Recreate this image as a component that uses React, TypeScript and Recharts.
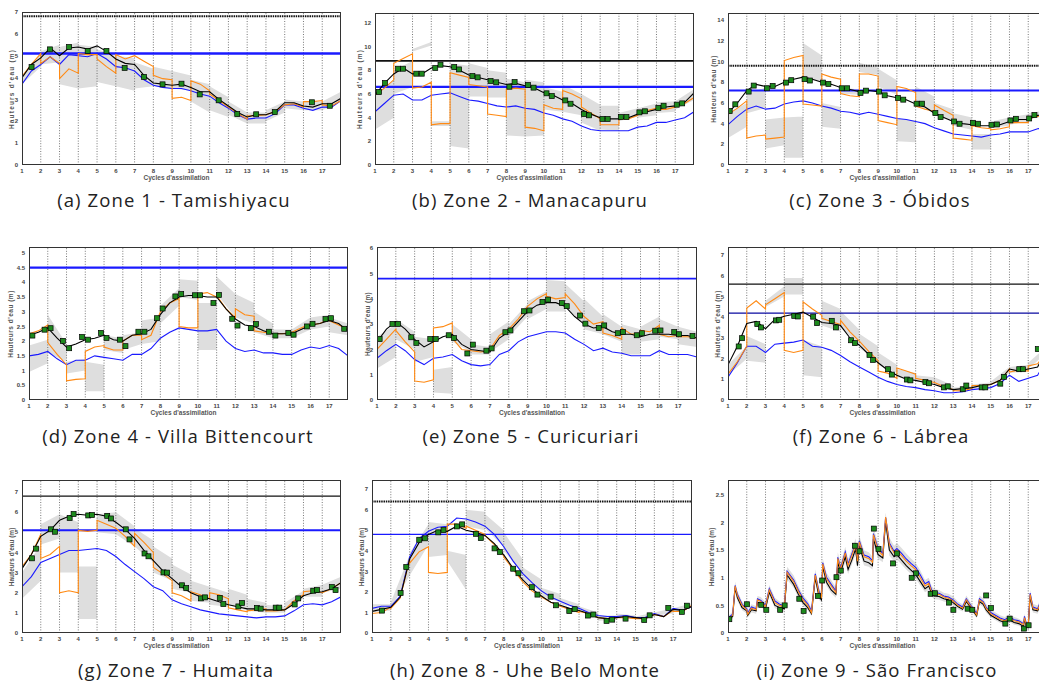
import { ComposedChart, Line, Area, Scatter, XAxis, YAxis, ReferenceLine } from "recharts"

/* =====================================
   SHARED AXES
===================================== */

const CYCLES = [1, 2, 3, 4, 5, 6, 7, 8, 9, 10, 11, 12, 13, 14, 15, 16, 17]
const GRID_X = [2, 3, 4, 5, 6, 7, 8, 9, 10, 11, 12, 13, 14, 15, 16, 17]
const HALF = [
  1, 1.5, 2, 2.5, 3, 3.5, 4, 4.5, 5, 5.5, 6, 6.5, 7, 7.5, 8, 8.5, 9, 9.5, 10, 10.5,
  11, 11.5, 12, 12.5, 13, 13.5, 14, 14.5, 15, 15.5, 16, 16.5, 17, 17.5, 18,
]

/* =====================================
   ZONE 1 - TAMISHIYACU
===================================== */

const z1Black = [4.0, 4.6, 4.9, 5.35, 5.0, 5.35, 5.4, 5.3, 5.45, 5.2, 4.85, 4.65, 4.6, 4.1, 3.75, 3.7, 3.65, 3.7, 3.55, 3.35, 3.35, 3.0, 2.7, 2.4, 2.2, 2.3, 2.3, 2.45, 2.85, 2.85, 2.7, 2.65, 2.8, 2.8, 3.05]
const z1Blue = [3.7, 4.3, 4.6, 4.95, 4.6, 5.05, 5.0, 4.95, 5.1, 4.85, 4.5, 4.45, 4.3, 3.9, 3.65, 3.55, 3.5, 3.5, 3.4, 3.25, 3.15, 2.85, 2.6, 2.3, 2.1, 2.15, 2.15, 2.35, 2.75, 2.75, 2.6, 2.5, 2.65, 2.65, 2.95]
// forecast per cycle: start, middle, end
const z1Orange = [[4.05, 4.6, 5.1], [4.65, 4.95, 4.65], [3.95, 4.4, 4.2], [5.1, 5.05, 5.05], [4.85, 4.5, 4.2], [5.05, 4.85, 5.0], [5.0, 4.75, 4.5], [4.1, 3.95, 3.9], [3.05, 3.1, 2.95], [3.85, 3.7, 3.4], [3.25, 2.95, 2.65], [2.65, 2.35, 2.1], [2.25, 2.25, 2.3], [2.3, 2.45, 2.75], [2.75, 2.8, 2.65], [2.9, 2.9, 2.95], [2.75, 2.7, 2.95]]
// ensemble spread per cycle: low start, high start, low end, high end
const z1Band = [[3.7, 4.1, 4.5, 5.1], [4.6, 5.2, 4.7, 5.5], [3.7, 5.4, 3.5, 5.6], [3.5, 5.5, 3.6, 5.4], [3.8, 5.3, 3.6, 5.0], [3.6, 5.0, 3.4, 4.9], [3.5, 4.7, 3.6, 4.4], [3.6, 4.5, 3.5, 4.3], [3.5, 4.3, 3.4, 4.1], [2.9, 3.9, 2.4, 3.7], [2.5, 3.6, 2.2, 3.1], [2.3, 2.9, 1.9, 2.4], [1.9, 2.4, 1.9, 2.4], [2.0, 2.5, 2.4, 2.9], [2.6, 3.0, 2.5, 2.9], [2.5, 2.9, 2.5, 2.9], [2.5, 2.9, 2.9, 3.35]]
const z1ObsX = [1.51, 2.49, 3.51, 4.5, 5.5, 6.47, 7.5, 8.49, 9.5, 10.47, 11.48, 12.47, 13.48, 14.47, 16.45, 17.4]
const z1ObsY = [4.48, 5.29, 5.4, 5.22, 5.22, 4.44, 4.03, 3.69, 3.72, 3.23, 2.96, 2.33, 2.32, 2.42, 2.87, 2.71]

/* =====================================
   ZONE 2 - MANACAPURU
===================================== */

const z2Black = [5.9, 6.9, 7.7, 8.2, 7.7, 7.7, 8.2, 8.4, 8.3, 8.0, 7.6, 7.4, 7.2, 7.0, 6.8, 6.9, 6.7, 6.5, 6.1, 5.9, 5.5, 5.2, 4.7, 4.3, 4.0, 3.9, 3.9, 4.0, 4.3, 4.5, 4.7, 4.9, 5.0, 5.3, 6.1]
const z2Blue = [4.5, 5.2, 5.9, 6.0, 5.5, 5.5, 5.9, 6.0, 6.1, 5.8, 5.5, 5.4, 5.2, 5.0, 4.9, 5.0, 4.8, 4.7, 4.4, 4.2, 3.9, 3.7, 3.3, 3.0, 2.9, 2.9, 2.9, 2.9, 3.2, 3.3, 3.6, 3.6, 3.8, 4.0, 4.5]
const z2Orange = [[5.9, 6.5, 7.2], [8.6, 9.0, 9.4], [6.5, 6.6, 7.0], [3.4, 3.5, 3.5], [7.8, 7.6, 7.4], [6.8, 6.7, 6.6], [4.3, 4.2, 4.1], [6.4, 6.5, 6.4], [3.2, 3.1, 2.9], [5.1, 4.8, 4.7], [6.3, 6.0, 5.6], [4.9, 4.4, 3.9], [3.4, 3.4, 3.4], [3.9, 3.9, 4.2], [4.3, 4.6, 4.8], [4.7, 4.7, 4.9], [5.0, 5.2, 5.7]]
const z2Band = [[3.0, 5.9, 4.0, 7.2], [6.0, 8.0, 6.6, 8.8], [9.6, 9.8, 10.1, 10.4], [3.3, 3.7, 3.3, 3.7], [1.6, 8.6, 1.4, 8.4], [5.8, 8.6, 5.8, 8.2], [5.7, 8.0, 5.7, 7.8], [2.5, 7.3, 2.4, 7.0], [2.4, 7.2, 2.5, 7.0], [4.7, 6.6, 4.5, 6.2], [4.5, 6.8, 4.2, 6.0], [3.6, 6.0, 2.9, 5.1], [3.0, 5.0, 2.9, 5.0], [3.7, 4.4, 4.1, 4.8], [4.0, 4.8, 4.2, 5.2], [4.4, 5.3, 4.5, 5.4], [4.7, 5.4, 5.5, 6.4]]
const z2ObsX = [1.21, 1.53, 2.23, 2.5, 3.2, 3.49, 4.21, 4.49, 5.22, 5.48, 6.19, 6.47, 7.16, 7.46, 8.16, 8.44, 9.15, 9.45, 10.14, 10.42, 11.14, 11.42, 12.13, 12.41, 13.12, 13.4, 14.1, 14.4, 15.09, 15.39, 16.1, 16.38, 17.08, 17.37]
const z2ObsY = [6.17, 6.93, 8.14, 8.14, 7.72, 7.72, 8.2, 8.48, 8.28, 8.08, 7.52, 7.41, 7.1, 6.99, 6.62, 7.01, 6.76, 6.54, 6.06, 5.83, 5.46, 5.18, 4.31, 4.2, 3.89, 3.89, 4.06, 4.06, 4.45, 4.54, 4.82, 5.01, 5.1, 5.21]

/* =====================================
   ZONE 3 - OBIDOS
===================================== */

const z3Black = [5.0, 6.0, 7.2, 7.8, 7.6, 7.6, 8.0, 8.3, 8.5, 8.3, 8.0, 7.8, 7.5, 7.3, 7.1, 7.2, 7.1, 6.7, 6.5, 6.3, 5.9, 5.6, 5.0, 4.6, 4.2, 4.0, 3.9, 3.8, 3.8, 3.9, 4.2, 4.4, 4.4, 4.8, 5.0]
const z3Blue = [3.9, 4.7, 5.4, 5.7, 5.4, 5.5, 5.9, 6.1, 6.2, 6.0, 5.7, 5.5, 5.2, 5.1, 4.9, 5.1, 4.9, 4.7, 4.5, 4.4, 4.2, 4.0, 3.6, 3.3, 3.0, 2.9, 2.8, 2.7, 2.9, 3.0, 3.2, 3.2, 3.2, 3.5, 3.6]
const z3Orange = [[4.9, 5.5, 6.2], [2.6, 2.8, 2.9], [2.5, 2.6, 2.7], [10.1, 10.4, 10.6], [5.9, 5.8, 5.7], [8.8, 8.5, 8.3], [6.9, 6.7, 6.6], [8.8, 8.8, 8.6], [4.3, 4.1, 3.9], [7.6, 7.4, 7.0], [5.7, 5.4, 5.2], [5.8, 5.3, 4.8], [2.6, 2.5, 2.4], [3.8, 3.6, 3.5], [3.4, 3.5, 3.7], [4.1, 4.1, 4.1], [4.5, 4.7, 4.9]]
const z3Band = [[2.6, 5.0, 3.7, 6.0], [5.0, 6.9, 5.5, 7.5], [1.6, 4.4, 1.9, 4.6], [0.7, 4.6, 0.7, 4.7], [8.4, 11.8, 8.0, 10.6], [3.7, 6.0, 3.5, 5.6], [6.9, 7.5, 6.8, 7.3], [9.0, 9.9, 8.7, 9.4], [7.6, 9.3, 6.8, 8.2], [2.3, 4.5, 2.2, 4.3], [5.8, 7.6, 5.0, 6.6], [4.8, 6.0, 4.2, 5.4], [3.8, 5.0, 3.4, 4.6], [1.5, 3.0, 1.5, 3.0], [3.6, 4.2, 3.8, 4.6], [3.9, 4.6, 4.2, 4.9], [4.4, 5.0, 4.8, 5.3]]
const z3ObsX = [1.09, 1.39, 2.1, 2.37, 3.07, 3.38, 4.09, 4.37, 5.08, 5.36, 6.07, 6.35, 7.06, 7.35, 8.06, 8.36, 9.05, 9.35, 10.06, 10.34, 11.05, 11.34, 12.05, 12.33, 13.05, 13.34, 14.05, 14.33, 15.04, 15.33, 16.05, 16.34, 17.05, 17.33]
const z3ObsY = [5.22, 5.87, 7.1, 7.68, 7.42, 7.65, 7.97, 8.2, 8.3, 8.17, 7.97, 7.84, 7.42, 7.42, 6.97, 7.19, 7.1, 6.74, 6.48, 6.32, 5.93, 5.93, 5.02, 4.63, 4.21, 3.99, 4.08, 3.99, 3.89, 3.92, 4.31, 4.47, 4.5, 4.83]

/* =====================================
   ZONE 4 - VILLA BITTENCOURT
===================================== */

const z4Black = [2.2, 2.3, 2.45, 2.1, 1.8, 1.9, 2.05, 2.1, 2.2, 2.05, 2.0, 2.2, 2.25, 2.4, 2.9, 3.3, 3.5, 3.55, 3.55, 3.5, 3.5, 3.1, 2.75, 2.55, 2.5, 2.35, 2.25, 2.25, 2.25, 2.4, 2.55, 2.6, 2.7, 2.6, 2.35]
const z4Blue = [1.5, 1.55, 1.65, 1.4, 1.2, 1.35, 1.35, 1.5, 1.45, 1.4, 1.35, 1.55, 1.55, 1.75, 2.1, 2.3, 2.45, 2.4, 2.35, 2.35, 2.4, 2.0, 1.75, 1.65, 1.7, 1.6, 1.6, 1.55, 1.55, 1.7, 1.8, 1.75, 1.85, 1.75, 1.5]
const z4Orange = [[2.25, 2.35, 2.55], [1.95, 1.55, 1.2], [0.65, 0.7, 0.72], [1.65, 1.8, 1.85], [1.8, 1.7, 1.7], [2.0, 2.2, 2.2], [2.05, 2.2, 3.0], [3.0, 3.3, 3.45], [2.5, 2.45, 2.45], [3.6, 3.65, 3.5], [3.55, 3.1, 2.8], [3.1, 2.9, 2.85], [2.35, 2.3, 2.25], [2.25, 2.25, 2.3], [2.3, 2.45, 2.6], [2.55, 2.6, 2.75], [2.7, 2.55, 2.4]]
const z4Band = [[0.95, 1.85, 1.25, 2.05], [1.6, 2.9, 1.3, 1.9], [0.9, 1.3, 1.0, 1.4], [0.3, 1.3, 0.3, 1.2], [1.7, 2.2, 1.6, 2.1], [1.7, 2.2, 1.9, 2.3], [1.9, 2.7, 2.0, 2.8], [2.6, 3.2, 3.2, 3.8], [3.5, 4.1, 3.4, 4.05], [1.7, 3.3, 1.7, 3.3], [3.6, 4.2, 2.8, 3.6], [2.8, 3.6, 2.6, 3.3], [2.3, 3.0, 2.1, 2.6], [2.1, 2.4, 2.1, 2.4], [2.1, 2.4, 2.4, 2.8], [2.4, 2.8, 2.5, 2.9], [2.3, 2.8, 2.2, 2.6]]
const z4ObsX = [1.18, 1.83, 2.15, 2.81, 3.14, 3.83, 4.15, 4.84, 5.13, 5.84, 6.14, 6.83, 7.15, 7.82, 8.12, 8.8, 9.11, 9.84, 10.12, 10.83, 11.12, 11.83, 12.11, 12.82, 13.1, 13.79, 14.13, 14.82, 15.1, 15.81, 16.11, 16.8, 17.09, 17.8]
const z4ObsY = [2.19, 2.39, 2.44, 2.01, 1.76, 2.14, 2.05, 2.28, 2.11, 2.05, 1.83, 2.32, 2.32, 2.78, 3.11, 3.52, 3.6, 3.56, 3.56, 3.3, 3.57, 2.76, 2.53, 2.44, 2.58, 2.32, 2.19, 2.28, 2.22, 2.5, 2.59, 2.75, 2.78, 2.42]

/* =====================================
   ZONE 5 - CURICURIARI
===================================== */

const z5Black = [2.3, 2.8, 3.1, 2.8, 2.4, 2.1, 2.3, 2.5, 2.6, 2.2, 2.0, 1.95, 1.9, 2.45, 2.7, 3.1, 3.5, 3.75, 3.85, 3.85, 3.7, 3.3, 3.0, 2.85, 2.9, 2.7, 2.6, 2.6, 2.5, 2.6, 2.6, 2.6, 2.55, 2.55, 2.45]
const z5Blue = [1.65, 1.95, 2.2, 1.95, 1.6, 1.4, 1.65, 1.7, 1.8, 1.55, 1.4, 1.35, 1.4, 1.8, 1.95, 2.3, 2.5, 2.6, 2.7, 2.7, 2.65, 2.4, 2.2, 1.95, 2.05, 1.9, 1.85, 1.75, 1.75, 1.75, 1.95, 1.8, 1.8, 1.8, 1.7]
const z5Orange = [[2.0, 2.4, 2.8], [2.75, 2.3, 1.9], [0.75, 0.7, 0.8], [2.85, 2.9, 3.05], [2.45, 2.0, 1.95], [1.95, 1.9, 1.95], [2.0, 2.55, 2.8], [2.8, 3.2, 3.7], [3.7, 4.0, 4.2], [4.1, 4.0, 4.05], [4.2, 3.8, 3.3], [3.3, 3.0, 3.1], [2.65, 2.55, 2.4], [2.85, 2.6, 2.65], [2.75, 2.7, 2.95], [2.6, 2.5, 2.55], [2.5, 2.5, 2.45]]
const z5Band = [[1.25, 2.5, 1.7, 3.0], [2.4, 3.2, 2.0, 2.7], [1.5, 2.5, 1.7, 2.4], [0.3, 1.2, 0.25, 1.3], [2.3, 3.0, 1.9, 2.4], [1.8, 2.2, 1.8, 2.1], [1.9, 2.6, 2.4, 3.1], [2.5, 3.0, 3.3, 3.8], [3.2, 3.9, 3.6, 4.3], [3.5, 4.75, 3.5, 4.7], [3.7, 4.6, 3.0, 3.9], [2.8, 4.0, 2.6, 3.3], [2.6, 3.4, 2.3, 2.9], [1.8, 3.0, 1.8, 2.8], [2.3, 2.9, 2.4, 3.3], [2.5, 3.2, 2.4, 2.9], [2.2, 2.9, 2.1, 2.7]]
const z5ObsX = [1.14, 1.82, 2.12, 2.82, 3.09, 3.83, 4.12, 4.81, 5.09, 5.8, 6.09, 6.81, 7.09, 7.82, 8.09, 8.81, 9.1, 9.79, 10.09, 10.82, 11.08, 11.79, 12.07, 12.78, 13.07, 13.79, 14.07, 14.8, 15.07, 15.78, 16.06, 16.79, 17.05, 17.76]
const z5ObsY = [2.41, 3.01, 3.01, 2.48, 2.26, 2.41, 2.41, 2.56, 2.45, 1.84, 2.19, 1.95, 2.04, 2.68, 2.75, 3.51, 3.54, 3.88, 3.97, 3.83, 3.71, 3.34, 3.02, 2.85, 2.95, 2.64, 2.69, 2.56, 2.64, 2.74, 2.75, 2.69, 2.6, 2.53]

/* =====================================
   ZONE 6 - LABREA
===================================== */

const z6Black = [1.7, 2.6, 3.7, 3.8, 3.45, 3.9, 4.05, 4.15, 4.25, 4.0, 3.75, 3.7, 3.6, 3.0, 2.65, 2.2, 1.8, 1.45, 1.2, 1.0, 0.95, 0.85, 0.75, 0.6, 0.5, 0.55, 0.6, 0.7, 0.75, 0.95, 1.5, 1.4, 1.5, 1.6, 2.5]
const z6Blue = [1.1, 1.8, 2.6, 2.6, 2.3, 2.7, 2.75, 2.8, 2.9, 2.6, 2.55, 2.4, 2.15, 1.85, 1.6, 1.35, 1.1, 0.9, 0.75, 0.65, 0.6, 0.5, 0.45, 0.35, 0.35, 0.4, 0.5, 0.55, 0.6, 0.8, 1.2, 0.9, 1.05, 1.2, 2.0]
const z6Orange = [[1.25, 1.85, 2.6], [4.45, 4.8, 4.4], [4.6, 4.9, 5.2], [2.4, 2.3, 2.4], [4.75, 4.4, 4.1], [3.95, 3.8, 3.65], [3.85, 3.3, 2.85], [2.85, 2.35, 1.9], [1.4, 1.3, 1.05], [1.55, 1.4, 1.25], [1.05, 0.95, 0.85], [0.85, 0.65, 0.5], [0.45, 0.45, 0.55], [0.7, 0.7, 0.75], [0.75, 0.95, 1.5], [1.35, 1.45, 1.4], [1.65, 1.75, 2.4]]
const z6Band = [[1.2, 1.7, 2.0, 2.6], [1.9, 3.1, 1.8, 2.7], [4.5, 4.8, 5.0, 5.5], [5.1, 5.9, 5.1, 5.9], [1.2, 2.9, 1.1, 2.6], [3.6, 4.8, 3.3, 4.4], [3.5, 4.3, 2.7, 3.4], [2.5, 3.2, 1.9, 2.6], [1.7, 2.3, 1.3, 1.7], [1.1, 1.5, 1.0, 1.3], [0.9, 1.2, 0.85, 1.1], [0.75, 1.1, 0.5, 0.7], [0.45, 0.6, 0.5, 0.65], [0.55, 0.75, 0.65, 0.85], [0.7, 0.9, 1.3, 1.6], [1.3, 1.6, 1.4, 1.7], [1.5, 1.8, 2.3, 2.6]]
const z6ObsX = [1.57, 1.75, 2.56, 2.76, 3.55, 3.73, 4.53, 4.72, 5.54, 5.75, 6.53, 6.75, 7.56, 7.76, 8.54, 8.73, 9.53, 9.73, 10.53, 10.72, 11.52, 11.71, 12.51, 12.71, 13.51, 13.7, 14.52, 14.71, 15.51, 15.71, 16.52, 16.72, 17.51]
const z6ObsY = [2.59, 2.99, 3.67, 3.51, 3.85, 3.88, 4.07, 4.04, 4.03, 3.72, 3.83, 3.51, 2.89, 2.75, 2.18, 1.94, 1.49, 1.23, 0.99, 0.95, 0.87, 0.81, 0.61, 0.66, 0.52, 0.7, 0.61, 0.61, 0.79, 1.12, 1.49, 1.49, 2.46]

/* =====================================
   ZONE 7 - HUMAITA
===================================== */

const z7Black = [3.2, 3.9, 4.8, 5.1, 5.6, 5.8, 5.9, 5.85, 5.9, 5.8, 5.5, 5.15, 4.7, 4.1, 3.6, 3.1, 2.7, 2.3, 2.0, 1.8, 1.7, 1.55, 1.4, 1.3, 1.2, 1.2, 1.15, 1.15, 1.15, 1.45, 1.85, 2.0, 2.05, 2.2, 2.5]
const z7Blue = [2.3, 2.8, 3.5, 3.7, 3.9, 4.1, 4.1, 4.15, 4.2, 4.1, 3.8, 3.4, 3.05, 2.7, 2.3, 2.1, 1.65, 1.45, 1.3, 1.15, 1.05, 0.95, 0.9, 0.85, 0.8, 0.75, 0.8, 0.8, 0.85, 1.1, 1.4, 1.45, 1.4, 1.55, 1.8]
const z7Orange = [[3.3, 3.9, 4.9], [3.7, 3.9, 4.3], [2.0, 2.1, 2.0], [5.1, 5.05, 5.1], [5.6, 5.4, 5.2], [5.2, 4.8, 4.3], [4.95, 4.5, 4.0], [3.25, 2.95, 2.6], [2.0, 1.85, 1.6], [2.05, 1.9, 1.7], [2.0, 1.9, 1.7], [1.25, 1.15, 1.05], [1.1, 1.15, 1.2], [1.1, 1.1, 1.15], [1.15, 1.6, 1.9], [2.05, 2.1, 2.0], [2.0, 2.2, 2.5]]
const z7Band = [[1.7, 3.0, 2.6, 4.4], [4.4, 5.4, 4.7, 5.9], [3.0, 5.9, 3.0, 5.5], [0.7, 3.3, 0.7, 3.3], [5.0, 5.9, 4.9, 6.0], [4.9, 6.0, 4.3, 5.3], [4.3, 5.2, 3.5, 4.6], [3.0, 4.3, 2.6, 3.7], [2.2, 3.4, 2.0, 2.9], [1.6, 2.6, 1.5, 2.3], [1.4, 2.3, 1.3, 2.0], [1.4, 2.2, 1.1, 1.9], [1.1, 1.7, 1.0, 1.5], [1.0, 1.4, 1.0, 1.3], [1.1, 1.5, 1.7, 2.1], [1.8, 2.2, 1.8, 2.4], [2.0, 2.4, 2.2, 2.8]]
const z7ObsX = [1.53, 1.75, 2.54, 2.76, 3.54, 3.75, 4.53, 4.73, 5.54, 5.74, 6.53, 6.73, 7.53, 7.74, 8.54, 8.73, 9.53, 9.75, 10.54, 10.76, 11.54, 11.73, 12.53, 12.73, 13.52, 13.72, 14.52, 14.71, 15.53, 15.72, 16.52, 16.72, 17.51, 17.71]
const z7ObsY = [3.71, 4.19, 5.15, 5.03, 5.71, 5.91, 5.84, 5.86, 5.82, 5.69, 5.15, 4.65, 3.95, 3.81, 3.01, 3.0, 2.37, 2.23, 1.72, 1.77, 1.74, 1.44, 1.32, 1.49, 1.24, 1.21, 1.26, 1.26, 1.42, 1.72, 2.1, 2.13, 2.28, 2.13]

/* =====================================
   ZONE 8 - UHE BELO MONTE
===================================== */

const z8Black = [1.05, 1.15, 1.25, 1.75, 3.6, 4.4, 4.8, 5.0, 4.95, 5.2, 5.0, 4.9, 4.75, 4.35, 3.8, 3.15, 2.6, 2.15, 1.8, 1.5, 1.35, 1.2, 1.1, 0.95, 0.75, 0.7, 0.75, 0.8, 0.75, 0.7, 0.9, 0.8, 1.15, 1.1, 1.3]
const z8Blue = [1.2, 1.3, 1.3, 1.8, 3.7, 4.6, 4.95, 5.15, 5.2, 5.6, 5.55, 5.4, 5.2, 4.8, 4.2, 3.5, 2.9, 2.45, 2.05, 1.75, 1.55, 1.35, 1.2, 1.0, 0.85, 0.8, 0.8, 0.85, 0.75, 0.75, 0.95, 0.8, 1.2, 1.1, 1.3]
const z8Orange = [[0.95, 1.0, 1.25], [1.2, 1.7, 3.6], [3.4, 3.95, 4.2], [2.95, 2.9, 2.95], [5.3, 5.3, 5.1], [5.2, 5.0, 4.8], [4.75, 4.3, 3.75], [3.7, 3.1, 2.5], [2.5, 2.05, 1.75], [1.75, 1.5, 1.3], [1.3, 1.15, 1.0], [1.05, 0.95, 0.75], [0.75, 0.7, 0.75], [0.75, 0.75, 0.7], [0.7, 0.7, 0.9], [0.9, 0.8, 1.1], [1.05, 1.05, 1.35]]
const z8Band = [[1.0, 1.4, 1.1, 1.4], [1.2, 1.5, 2.8, 3.8], [2.8, 3.9, 4.3, 5.3], [3.7, 5.4, 3.8, 5.3], [3.5, 4.0, 2.1, 3.8], [5.2, 6.0, 5.0, 5.9], [5.1, 5.8, 4.2, 5.0], [4.0, 4.9, 2.9, 3.6], [2.6, 3.2, 2.0, 2.6], [1.8, 2.2, 1.5, 1.9], [1.4, 1.7, 1.2, 1.4], [1.1, 1.3, 0.8, 1.0], [0.6, 0.85, 0.65, 0.85], [0.75, 0.95, 0.7, 0.85], [0.7, 0.8, 0.8, 1.0], [0.85, 1.0, 0.95, 1.2], [1.0, 1.2, 1.25, 1.45]]
const z8ObsX = [1.53, 2.52, 2.82, 3.51, 3.81, 4.52, 4.8, 5.51, 5.79, 6.52, 6.78, 7.51, 7.79, 8.5, 8.78, 9.49, 9.79, 10.49, 10.78, 11.48, 11.77, 12.47, 12.76, 13.46, 13.76, 14.47, 15.46, 15.75, 16.74, 17.46, 17.73]
const z8ObsY = [1.09, 1.95, 3.21, 4.54, 4.61, 4.9, 5.01, 5.19, 5.29, 4.83, 4.62, 4.12, 3.94, 3.13, 2.91, 2.23, 1.87, 1.77, 1.35, 1.07, 1.16, 0.85, 0.9, 0.59, 0.65, 0.7, 0.63, 0.86, 1.22, 1.03, 1.33]

/* =====================================
   ZONE 9 - SAO FRANCISCO (finer sampling, spiky)
===================================== */

const z9X = [
  1, 1.25, 1.38, 1.5, 1.75, 2, 2.05, 2.25, 2.5, 2.57, 2.75, 3, 3.2, 3.5, 3.75, 4, 4.15, 4.5, 4.75, 5,
  5.25, 5.45, 5.65, 5.85, 5.98, 6.05, 6.25, 6.5, 6.75, 6.85, 7, 7.25, 7.4, 7.6, 7.8, 7.9, 8, 8.25, 8.5, 8.7,
  8.75, 9, 9.25, 9.4, 9.6, 9.85, 10, 10.25, 10.5, 10.75, 11, 11.25, 11.5, 11.7, 11.85, 12, 12.25, 12.5, 12.75, 13,
  13.25, 13.5, 13.7, 14, 14.25, 14.4, 14.6, 14.75, 15, 15.25, 15.5, 15.75, 16, 16.25, 16.5, 16.75, 16.8, 16.9, 17, 17.1,
  17.25, 17.5, 17.6, 18,
]
const z9Orange = [
  0.25, 0.32, 0.85, 0.68, 0.5, 0.42, 0.34, 0.45, 0.42, 0.6, 0.57, 0.48, 0.78, 0.55, 0.5, 0.47, 1.1, 0.93, 0.75, 0.6,
  0.5, 0.37, 1.05, 0.72, 0.65, 1.25, 0.98, 0.85, 0.73, 1.35, 1.15, 1.45, 1.22, 1.4, 1.6, 1.3, 1.65, 1.38, 1.35, 1.28,
  1.78, 1.5, 1.4, 2.1, 1.6, 1.45, 1.5, 1.4, 1.3, 1.22, 1.15, 1.0, 0.85, 0.9, 0.75, 0.7, 0.7, 0.65, 0.63, 0.58,
  0.5, 0.45, 0.6, 0.45, 0.33, 0.6, 0.55, 0.45, 0.35, 0.3, 0.25, 0.22, 0.27, 0.22, 0.2, 0.15, 0.28, 0.15, 0.13, 0.7,
  0.45, 0.42, 0.5, 0.55,
]
const z9Black = [
  0.24, 0.3, 0.82, 0.64, 0.46, 0.4, 0.32, 0.42, 0.4, 0.56, 0.53, 0.44, 0.74, 0.5, 0.46, 0.44, 1.05, 0.88, 0.7, 0.55,
  0.46, 0.35, 1.0, 0.66, 0.6, 1.2, 0.92, 0.78, 0.7, 1.28, 1.1, 1.38, 1.15, 1.32, 1.52, 1.22, 1.58, 1.3, 1.27, 1.22,
  1.7, 1.42, 1.36, 2.02, 1.5, 1.38, 1.42, 1.32, 1.22, 1.14, 1.06, 0.93, 0.8, 0.85, 0.72, 0.67, 0.66, 0.62, 0.6, 0.55,
  0.48, 0.43, 0.57, 0.43, 0.31, 0.57, 0.52, 0.42, 0.32, 0.27, 0.22, 0.19, 0.24, 0.19, 0.17, 0.12, 0.25, 0.12, 0.1, 0.66,
  0.42, 0.4, 0.47, 0.53,
]
const z9Blue = [
  0.27, 0.34, 0.86, 0.7, 0.52, 0.44, 0.36, 0.47, 0.44, 0.62, 0.59, 0.5, 0.8, 0.58, 0.52, 0.49, 1.12, 0.96, 0.78, 0.63,
  0.53, 0.4, 1.07, 0.75, 0.68, 1.27, 1.01, 0.88, 0.76, 1.37, 1.18, 1.47, 1.25, 1.43, 1.62, 1.34, 1.67, 1.41, 1.38, 1.31,
  1.8, 1.53, 1.44, 2.1, 1.63, 1.48, 1.53, 1.44, 1.34, 1.26, 1.19, 1.05, 0.89, 0.93, 0.78, 0.73, 0.72, 0.67, 0.65, 0.6,
  0.52, 0.47, 0.62, 0.47, 0.35, 0.62, 0.57, 0.47, 0.37, 0.32, 0.27, 0.24, 0.29, 0.24, 0.22, 0.17, 0.3, 0.17, 0.15, 0.72,
  0.47, 0.44, 0.52, 0.57,
]
const z9Lo = [
  0.2, 0.26, 0.75, 0.58, 0.41, 0.35, 0.28, 0.37, 0.35, 0.5, 0.48, 0.39, 0.68, 0.45, 0.41, 0.39, 0.97, 0.82, 0.64, 0.5,
  0.41, 0.31, 0.92, 0.6, 0.55, 1.1, 0.85, 0.72, 0.64, 1.18, 1.02, 1.28, 1.07, 1.24, 1.42, 1.14, 1.48, 1.22, 1.2, 1.15,
  1.6, 1.34, 1.28, 1.92, 1.4, 1.3, 1.33, 1.24, 1.15, 1.07, 0.98, 0.86, 0.74, 0.78, 0.66, 0.61, 0.6, 0.57, 0.55, 0.5,
  0.43, 0.39, 0.52, 0.38, 0.27, 0.52, 0.47, 0.37, 0.28, 0.23, 0.18, 0.15, 0.2, 0.15, 0.13, 0.08, 0.2, 0.08, 0.06, 0.6,
  0.37, 0.35, 0.42, 0.48,
]
const z9Hi = [
  0.31, 0.39, 0.93, 0.76, 0.57, 0.49, 0.41, 0.52, 0.49, 0.67, 0.65, 0.56, 0.87, 0.64, 0.57, 0.54, 1.2, 1.04, 0.85, 0.69,
  0.59, 0.45, 1.15, 0.82, 0.74, 1.35, 1.09, 0.96, 0.83, 1.46, 1.27, 1.56, 1.34, 1.52, 1.71, 1.44, 1.76, 1.5, 1.46, 1.38,
  1.9, 1.63, 1.53, 2.18, 1.73, 1.58, 1.63, 1.54, 1.44, 1.35, 1.27, 1.13, 0.96, 1.0, 0.85, 0.79, 0.78, 0.73, 0.71, 0.66,
  0.57, 0.52, 0.68, 0.52, 0.4, 0.68, 0.63, 0.53, 0.43, 0.37, 0.32, 0.29, 0.34, 0.29, 0.26, 0.21, 0.35, 0.21, 0.19, 0.78,
  0.53, 0.5, 0.58, 0.62,
]
const z9ObsX = [1.07, 2.01, 2.77, 3.04, 3.78, 4.02, 4.8, 5.03, 5.79, 6.02, 6.78, 7.01, 7.76, 8.01, 8.77, 9.02, 9.8, 10.01, 10.79, 11.02, 11.8, 12.03, 12.78, 13.01, 13.77, 14.02, 14.76, 15.01, 15.78, 16.01, 16.77, 17.02]
const z9ObsY = [0.25, 0.52, 0.51, 0.42, 0.42, 0.5, 0.62, 0.4, 0.67, 0.95, 1.01, 1.13, 1.58, 1.48, 1.89, 1.52, 1.26, 1.44, 1.0, 1.08, 0.71, 0.72, 0.55, 0.42, 0.44, 0.42, 0.68, 0.45, 0.17, 0.26, 0.08, 0.14]

/* =====================================
   STYLES + PANEL LAYOUT
===================================== */

const BLACK = "#000000"
const ORANGE = "#ff8a14"
const BLUE = "#1a1aff"
const GREEN = "#1d8a1d"
const GREY_BAND = "#dedede"
const TICK = { fontSize: 6, fill: "#444", fontFamily: "Liberation Sans, Arial, sans-serif", fontWeight: 700 }
const YW = 30
const XH = 14
const MT = 6

type Ref = { y: number; color: string; width: number; dash?: string }

type Zone = {
  caption: string
  xs: number[]
  black: number[]
  blue: number[]
  orange?: number[][]
  orangeLine?: number[]
  band?: number[][]
  bandLo?: number[]
  bandHi?: number[]
  obsX: number[]
  obsY: number[]
  yMax: number
  yTicks: number[]
  refs: Ref[]
  left: number
  right: number
  top: number
  bottom: number
  yTitleX: number
  yTitleSpacing: number
  capX: number
  capY: number
  orangeOnTop?: boolean
}

const ROW1 = { top: 12, bottom: 165, capY: 200 }
const ROW2 = { top: 247, bottom: 400, capY: 436 }
const ROW3 = { top: 480, bottom: 633, capY: 670 }

const ZONES: Zone[] = [
  {
    caption: "(a) Zone 1 - Tamishiyacu", xs: HALF, black: z1Black, blue: z1Blue, orange: z1Orange, band: z1Band,
    obsX: z1ObsX, obsY: z1ObsY, yMax: 7, yTicks: [0, 1, 2, 3, 4, 5, 6, 7],
    refs: [{ y: 6.8, color: "#111", width: 2, dash: "1.5 0.8" }, { y: 5.1, color: BLUE, width: 2.5 }],
    left: 22, right: 341, ...ROW1, yTitleX: 12, yTitleSpacing: 1.2, capX: 174,
  },
  {
    caption: "(b) Zone 2 - Manacapuru", xs: HALF, black: z2Black, blue: z2Blue, orange: z2Orange, band: z2Band,
    obsX: z2ObsX, obsY: z2ObsY, yMax: 12.85, yTicks: [0, 2, 4, 6, 8, 10, 12],
    refs: [{ y: 8.8, color: "#111", width: 1.6 }, { y: 6.6, color: BLUE, width: 2.2 }],
    left: 375, right: 694, ...ROW1, top: 13, yTitleX: 360, yTitleSpacing: 1.2, capX: 530,
  },
  {
    caption: "(c) Zone 3 - Óbidos", xs: HALF, black: z3Black, blue: z3Blue, orange: z3Orange, band: z3Band,
    obsX: z3ObsX, obsY: z3ObsY, yMax: 14.7, yTicks: [0, 2, 4, 6, 8, 10, 12, 14],
    refs: [{ y: 9.6, color: "#111", width: 2, dash: "1.5 0.8" }, { y: 7.2, color: BLUE, width: 2 }],
    left: 728, right: 1047, ...ROW1, top: 13, yTitleX: 714, yTitleSpacing: 0.5, capX: 880,
  },
  {
    caption: "(d) Zone 4 - Villa Bittencourt", xs: HALF, black: z4Black, blue: z4Blue, orange: z4Orange, band: z4Band,
    obsX: z4ObsX, obsY: z4ObsY, yMax: 5.2, yTicks: [0, 0.5, 1, 1.5, 2, 2.5, 3, 3.5, 4, 4.5, 5],
    refs: [{ y: 4.5, color: BLUE, width: 2.2 }],
    left: 29, right: 348, ...ROW2, yTitleX: 11, yTitleSpacing: 0.5, capX: 178,
  },
  {
    caption: "(e) Zone 5 - Curicuriari", xs: HALF, black: z5Black, blue: z5Blue, orange: z5Orange, band: z5Band,
    obsX: z5ObsX, obsY: z5ObsY, yMax: 6.05, yTicks: [0, 1, 2, 3, 4, 5, 6],
    refs: [{ y: 4.8, color: BLUE, width: 1.8 }],
    left: 377, right: 697, ...ROW2, yTitleX: 368, yTitleSpacing: 0.3, capX: 531,
  },
  {
    caption: "(f) Zone 6 - Lábrea", xs: HALF, black: z6Black, blue: z6Blue, orange: z6Orange, band: z6Band,
    obsX: z6ObsX, obsY: z6ObsY, yMax: 7.4, yTicks: [0, 1, 2, 3, 4, 5, 6, 7],
    refs: [{ y: 5.6, color: "#111", width: 1.2 }, { y: 4.2, color: "#0a0aa0", width: 1.2 }],
    left: 728, right: 1047, ...ROW2, yTitleX: 718, yTitleSpacing: 0.5, capX: 881,
  },
  {
    caption: "(g) Zone 7 - Humaita", xs: HALF, black: z7Black, blue: z7Blue, orange: z7Orange, band: z7Band,
    obsX: z7ObsX, obsY: z7ObsY, yMax: 7.6, yTicks: [0, 1, 2, 3, 4, 5, 6, 7],
    refs: [{ y: 6.8, color: "#111", width: 1.3 }, { y: 5.1, color: BLUE, width: 2 }],
    left: 22, right: 341, ...ROW3, yTitleX: 12, yTitleSpacing: 0, capX: 176,
  },
  {
    caption: "(h) Zone 8 - Uhe Belo Monte", xs: HALF, black: z8Black, blue: z8Blue, orange: z8Orange, band: z8Band,
    obsX: z8ObsX, obsY: z8ObsY, yMax: 7.45, yTicks: [0, 1, 2, 3, 4, 5, 6, 7],
    refs: [{ y: 6.4, color: "#111", width: 2, dash: "1.5 0.8" }, { y: 4.8, color: BLUE, width: 1.3 }],
    left: 372, right: 692, ...ROW3, yTitleX: 362, yTitleSpacing: 0, capX: 525,
  },
  {
    caption: "(i) Zone 9 - São Francisco", xs: z9X, black: z9Black, blue: z9Blue, orangeLine: z9Orange,
    bandLo: z9Lo, bandHi: z9Hi, obsX: z9ObsX, obsY: z9ObsY, yMax: 2.77, yTicks: [0, 0.5, 1, 1.5, 2, 2.5],
    refs: [],
    left: 728, right: 1047, ...ROW3, yTitleX: 712, yTitleSpacing: 0, capX: 877, orangeOnTop: true,
  },
]

/* =====================================
   DATA BUILDERS
===================================== */

const linePts = (xs: number[], ys: number[]) => xs.map((x, i) => ({ x, y: ys[i] }))

// one forecast segment per cycle, with a vertical jump at each new cycle
const stepPts = (tri: number[][]) =>
  tri.flatMap((t, i) => [
    { x: CYCLES[i], y: t[0] },
    { x: CYCLES[i] + 0.5, y: t[1] },
    { x: CYCLES[i] + 1, y: t[2] },
  ])

const bandPts = (quad: number[][]) =>
  quad.flatMap((b, i) => [
    { x: CYCLES[i], r: [b[0], b[1]] },
    { x: CYCLES[i] + 1, r: [b[2], b[3]] },
  ])

const Square = (props: any) => {
  const { cx, cy } = props
  if (cx == null || cy == null) return <g />
  return <rect x={cx - 2.5} y={cy - 2.5} width={5} height={5} fill={GREEN} stroke="#000" strokeWidth={0.7} />
}

/* =====================================
   PANEL
===================================== */

function Panel({ z }: { z: Zone }) {
  const w = z.right - z.left
  const h = z.bottom - z.top
  const black = linePts(z.xs, z.black)
  const blue = linePts(z.xs, z.blue)
  const orange = z.orange ? stepPts(z.orange) : linePts(z.xs, z.orangeLine || [])
  const band = z.band
    ? bandPts(z.band)
    : z.xs.map((x, i) => ({ x, r: [(z.bandLo || [])[i], (z.bandHi || [])[i]] }))
  const obs = z.obsX.map((x, i) => ({ x, y: z.obsY[i] }))

  const blackLine = (
    <Line key="black" data={black} dataKey="y" type="linear" stroke={BLACK} strokeWidth={1.1} dot={false} isAnimationActive={false} />
  )
  const blueLine = (
    <Line key="blue" data={blue} dataKey="y" type="linear" stroke={BLUE} strokeWidth={1.1} dot={false} isAnimationActive={false} />
  )
  const orangeLine = (
    <Line key="orange" data={orange} dataKey="y" type="linear" stroke={ORANGE} strokeWidth={1.1} dot={false} isAnimationActive={false} />
  )
  const lines = z.orangeOnTop ? [blackLine, blueLine, orangeLine] : [blueLine, orangeLine, blackLine]

  return (
    <>
      <div style={{ position: "absolute", left: z.left - YW, top: z.top - MT }}>
        <ComposedChart width={w + YW + 2} height={h + XH + MT} margin={{ top: MT, right: 2, bottom: 0, left: 0 }}>
          <XAxis
            dataKey="x"
            type="number"
            domain={[1, 18]}
            ticks={CYCLES}
            interval={0}
            allowDataOverflow
            tickLine={false}
            axisLine={false}
            tickSize={2}
            tickMargin={2}
            tick={TICK}
            height={XH}
          />
          <YAxis
            type="number"
            domain={[0, z.yMax]}
            ticks={z.yTicks}
            interval={0}
            allowDataOverflow
            tickLine={false}
            axisLine={false}
            tickSize={3}
            tickMargin={1}
            tick={TICK}
            width={YW}
          />

          {/* ensemble spread */}
          <Area data={band} dataKey="r" type="linear" stroke="none" fill={GREY_BAND} fillOpacity={1} isAnimationActive={false} />

          {/* cycle separators */}
          {GRID_X.map((c) => (
            <ReferenceLine key={c} x={c} stroke="#555" strokeWidth={0.8} strokeDasharray="1 1.6" />
          ))}

          {z.refs.map((r, i) => (
            <ReferenceLine key={"r" + i} y={r.y} stroke={r.color} strokeWidth={r.width} strokeDasharray={r.dash} />
          ))}

          {lines}
          <Scatter data={obs} dataKey="y" shape={Square} isAnimationActive={false} />
        </ComposedChart>
      </div>

      {/* frame */}
      <div
        style={{
          position: "absolute",
          left: z.left,
          top: z.top,
          width: w,
          height: h,
          border: "1px solid #333",
          boxSizing: "border-box",
          pointerEvents: "none",
        }}
      />

      {/* axis titles */}
      <div
        style={{
          position: "absolute",
          left: (z.left + z.right) / 2 - 5 - 100,
          top: z.bottom + 9,
          width: 200,
          textAlign: "center",
          fontSize: 6.5,
          lineHeight: "8px",
          fontFamily: "Liberation Sans, Arial, sans-serif",
          fontWeight: 700,
          color: "#555",
        }}
      >
        Cycles d'assimilation
      </div>
      <div
        style={{
          position: "absolute",
          left: z.yTitleX - 60,
          top: (z.top + z.bottom) / 2 - 4,
          width: 120,
          height: 8,
          lineHeight: "8px",
          textAlign: "center",
          transform: "rotate(-90deg)",
          fontSize: 6.5,
          letterSpacing: z.yTitleSpacing,
          fontFamily: "Liberation Sans, Arial, sans-serif",
          fontWeight: 700,
          color: "#555",
        }}
      >
        Hauteurs d'eau (m)
      </div>

      {/* caption */}
      <div
        style={{
          position: "absolute",
          left: z.capX - 200,
          top: z.capY - 12,
          width: 400,
          lineHeight: "24px",
          textAlign: "center",
          fontSize: 18.5,
          letterSpacing: 1.1,
          fontFamily: "'Open Sans', sans-serif",
          color: "#222",
        }}
      >
        {z.caption}
      </div>
    </>
  )
}

export default function App() {
  return (
    <div
      style={{
        position: "absolute",
        left: 0,
        top: 0,
        width: 1039,
        height: 682,
        overflow: "hidden",
        background: "#fff",
      }}
    >
      {ZONES.map((z) => (
        <Panel key={z.caption} z={z} />
      ))}
    </div>
  )
}
